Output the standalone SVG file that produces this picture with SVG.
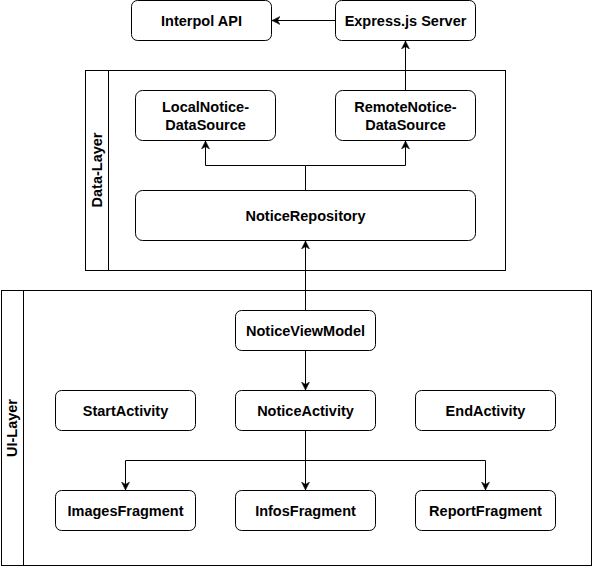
<svg xmlns="http://www.w3.org/2000/svg" width="593" height="566" viewBox="0 0 593 566">
<style>
.box{fill:#fff;stroke:#000;stroke-width:1}
.lane{fill:none;stroke:#000;stroke-width:1}
.t{font-family:"Liberation Sans",Arial,sans-serif;font-size:14.5px;font-weight:bold;fill:#000;text-anchor:middle;dominant-baseline:central}
.c{fill:none;stroke:#000;stroke-width:1}
.a{marker-end:url(#arr)}
</style>
<defs>
<marker id="arr" markerUnits="userSpaceOnUse" markerWidth="10" markerHeight="10" refX="8" refY="4" orient="auto" viewBox="0 0 10 8">
<path d="M0,0 L8,4 L0,8 L2.5,4 z" fill="#000" stroke="#000" stroke-width="0.5"/>
</marker>
</defs>
<rect width="593" height="566" fill="#fff"/>
<g id="data-layer">
<rect class="lane" x="85.5" y="70.5" width="420" height="200"/>
<line class="lane" x1="108.5" y1="70.5" x2="108.5" y2="270.5"/>
<text class="t" transform="translate(97,170) rotate(-90)">Data-Layer</text>
</g>
<g id="ui-layer">
<rect class="lane" x="1.5" y="290.5" width="590" height="275"/>
<line class="lane" x1="23.5" y1="290.5" x2="23.5" y2="565.5"/>
<text class="t" transform="translate(12,428) rotate(-90)">UI-Layer</text>
</g>
<g id="connectors">
<path class="c a" d="M335.5,20.5 L272,20.5"/>
<path class="c a" d="M405.5,90.5 L405.5,41"/>
<path class="c" d="M305.5,190.5 L305.5,165.5"/>
<path class="c a" d="M305.5,165.5 L205.5,165.5 L205.5,141"/>
<path class="c a" d="M305.5,165.5 L405.5,165.5 L405.5,141"/>
<path class="c a" d="M305.5,310.5 L305.5,241"/>
<path class="c a" d="M305.5,350.5 L305.5,390"/>
<path class="c a" d="M305.5,430.5 L305.5,490"/>
<path class="c a" d="M305.5,460.5 L125.5,460.5 L125.5,490"/>
<path class="c a" d="M305.5,460.5 L485.5,460.5 L485.5,490"/>
</g>
<g id="interpol-api"><rect class="box" x="131.5" y="0.5" width="140" height="40" rx="6"/><text class="t" x="201.5" y="20.5">Interpol API</text></g>
<g id="express-server"><rect class="box" x="335.5" y="0.5" width="140" height="40" rx="6"/><text class="t" x="405.5" y="20.5">Express.js Server</text></g>
<g id="local-datasource"><rect class="box" x="135.5" y="90.5" width="140" height="50" rx="7"/><text class="t" x="205.5" y="106.5">LocalNotice-</text><text class="t" x="205.5" y="124.5">DataSource</text></g>
<g id="remote-datasource"><rect class="box" x="335.5" y="90.5" width="140" height="50" rx="7"/><text class="t" x="405.5" y="106.5">RemoteNotice-</text><text class="t" x="405.5" y="124.5">DataSource</text></g>
<g id="notice-repository"><rect class="box" x="135.5" y="190.5" width="340" height="50" rx="7"/><text class="t" x="305.5" y="215.5">NoticeRepository</text></g>
<g id="notice-viewmodel"><rect class="box" x="235.5" y="310.5" width="140" height="40" rx="6"/><text class="t" x="305.5" y="330.5">NoticeViewModel</text></g>
<g id="start-activity"><rect class="box" x="55.5" y="390.5" width="140" height="40" rx="6"/><text class="t" x="125.5" y="410.5">StartActivity</text></g>
<g id="notice-activity"><rect class="box" x="235.5" y="390.5" width="140" height="40" rx="6"/><text class="t" x="305.5" y="410.5">NoticeActivity</text></g>
<g id="end-activity"><rect class="box" x="415.5" y="390.5" width="140" height="40" rx="6"/><text class="t" x="485.5" y="410.5">EndActivity</text></g>
<g id="images-fragment"><rect class="box" x="55.5" y="490.5" width="140" height="40" rx="6"/><text class="t" x="125.5" y="510.5">ImagesFragment</text></g>
<g id="infos-fragment"><rect class="box" x="235.5" y="490.5" width="140" height="40" rx="6"/><text class="t" x="305.5" y="510.5">InfosFragment</text></g>
<g id="report-fragment"><rect class="box" x="415.5" y="490.5" width="140" height="40" rx="6"/><text class="t" x="485.5" y="510.5">ReportFragment</text></g>
</svg>
